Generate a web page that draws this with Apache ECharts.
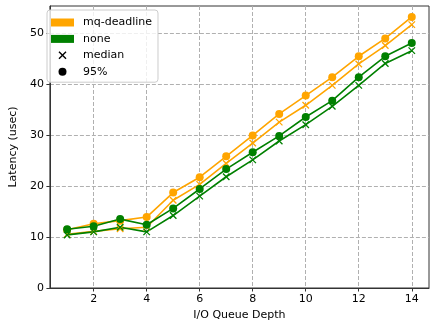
<!DOCTYPE html>
<html>
<head>
<meta charset="utf-8">
<script src="https://cdn.jsdelivr.net/npm/echarts@6/dist/echarts.min.js"></script>
<style>html,body{margin:0;padding:0;background:#fff}#c{width:436px;height:327px}</style>
</head>
<body>
<div id="c"></div>
<script>
const depths = [1,2,3,4,5,6,7,8,9,10,11,12,13,14];
const mqMedian = [10.5,11.1,11.6,11.9,17.2,20.3,24.4,28.4,32.5,35.8,39.7,43.9,47.5,51.6];
const mq95 = [11.4,12.6,13.2,13.9,18.7,21.7,25.8,29.9,34.1,37.7,41.3,45.4,48.9,53.1];
const noneMedian = [10.4,11.0,11.9,11.0,14.2,18.0,21.8,25.1,28.8,32.0,35.6,39.7,44.0,46.5];
const none95 = [11.5,12.1,13.5,12.4,15.6,19.4,23.3,26.6,29.8,33.5,36.7,41.3,45.4,48.0];
const xTicks = [2,4,6,8,10,12,14];
const yTicks = [0,10,20,30,40,50];
const legendNames = ['mq-deadline','none','median','95%'];

const ORANGE = '#FFA500', GREEN = '#008000';
const CROSS = 'path://M0,0L10,10M10,0L0,10';
const CROSS_FILLED = 'path://M0,1.2L1.2,0L5,3.8L8.8,0L10,1.2L6.2,5L10,8.8L8.8,10L5,6.2L1.2,10L0,8.8L3.8,5Z';
const FONT = 'DejaVu Sans';
const FS = 11;

function pairs(ys){ return depths.map((d,i)=>[d, ys[i]]); }
function lineSeries(name, ys, color, marker){
  const isCross = marker === 'x';
  return {
    name: name, type: 'line', data: pairs(ys),
    symbol: isCross ? CROSS : 'circle',
    symbolSize: isCross ? 6.5 : 8,
    showAllSymbol: true,
    itemStyle: isCross ? {color: 'none', borderColor: color, borderWidth: 1.3} : {color: color, borderWidth: 0},
    lineStyle: {color: color, width: 1.6},
    emphasis: {disabled: true},
    animation: false
  };
}
function legendDummy(name, color){
  return {name: name, type: 'scatter', data: [], itemStyle: {color: color, opacity: 1}};
}
const chart = echarts.init(document.getElementById('c'), null, {renderer: 'canvas'});
chart.setOption({
  animation: false,
  textStyle: {fontFamily: FONT},
  grid: {left: 42, right: 7, top: 6, bottom: 39, show: true, borderColor: '#333', borderWidth: 1, backgroundColor: 'transparent'},
  legend: {
    left: 47, top: 10, orient: 'vertical',
    itemWidth: 23, itemHeight: 8, itemGap: 3.4,
    padding: [6, 6, 4, 4],
    backgroundColor: 'rgba(255,255,255,0.8)', borderColor: '#cccccc', borderWidth: 1, borderRadius: 3,
    textStyle: {fontFamily: FONT, fontSize: FS, color: '#000', lineHeight: 13, padding: [0,0,0,4]},
    selectedMode: false,
    data: [
      {name: legendNames[0], icon: 'rect', itemStyle: {color: ORANGE, opacity: 1}},
      {name: legendNames[1], icon: 'rect', itemStyle: {color: GREEN, opacity: 1}},
      {name: legendNames[2], icon: CROSS_FILLED, itemStyle: {color: '#000', opacity: 1}},
      {name: legendNames[3], icon: 'circle', itemStyle: {color: '#000', opacity: 1}}
    ]
  },
  xAxis: {
    type: 'value', min: 0.35, max: 14.65,
    name: 'I/O Queue Depth', nameLocation: 'middle', nameGap: 19,
    nameTextStyle: {fontFamily: FONT, fontSize: FS, color: '#000'},
    axisLine: {show: true, onZero: false, lineStyle: {color: '#333', width: 1}},
    axisTick: {show: true, length: 3.5, lineStyle: {color: '#333'}, customValues: xTicks},
    axisLabel: {fontFamily: FONT, fontSize: FS, color: '#000', margin: 6, customValues: xTicks},
    splitLine: {show: true, lineStyle: {color: '#b0b0b0', type: [4, 2], width: 1}}
  },
  yAxis: {
    type: 'value', min: 0, max: 55.25,
    name: 'Latency (usec)', nameLocation: 'middle', nameGap: 24, nameRotate: 90,
    nameTextStyle: {fontFamily: FONT, fontSize: FS, color: '#000'},
    axisLine: {show: true, lineStyle: {color: '#333', width: 1}},
    axisTick: {show: true, length: 3.5, lineStyle: {color: '#333'}, customValues: yTicks},
    axisLabel: {fontFamily: FONT, fontSize: FS, color: '#000', margin: 6, customValues: yTicks},
    splitLine: {show: true, lineStyle: {color: '#b0b0b0', type: [4, 2], width: 1}}
  },
  series: [
    lineSeries('mq-deadline median', mqMedian, ORANGE, 'x'),
    lineSeries('mq-deadline 95%', mq95, ORANGE, 'o'),
    lineSeries('none median', noneMedian, GREEN, 'x'),
    lineSeries('none 95%', none95, GREEN, 'o'),
    legendDummy(legendNames[0], ORANGE),
    legendDummy(legendNames[1], GREEN),
    legendDummy(legendNames[2], '#000'),
    legendDummy(legendNames[3], '#000')
  ]
});
</script>
</body>
</html>
